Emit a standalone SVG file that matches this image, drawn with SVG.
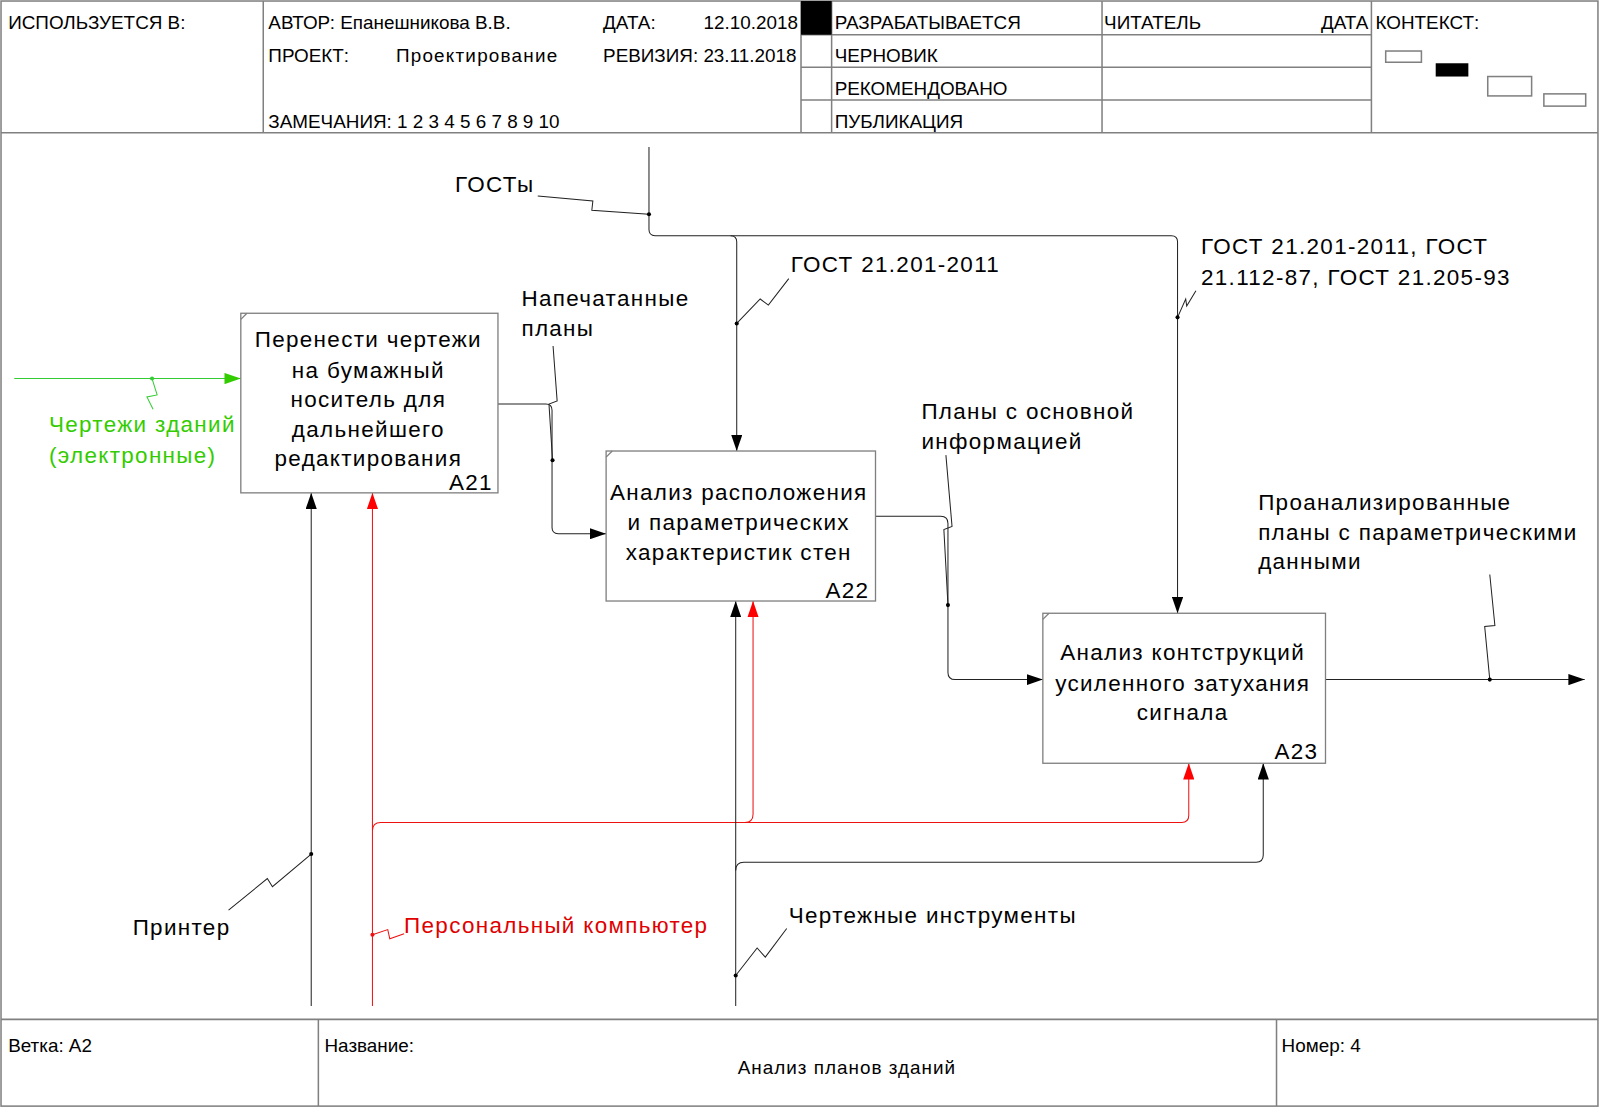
<svg xmlns="http://www.w3.org/2000/svg" width="1600" height="1108" viewBox="0 0 1600 1108">
<defs>
<style>
.frm{fill:none;stroke:#808080;stroke-width:1.5}
.box{fill:#fff;stroke:#808080;stroke-width:1.3}
.ln{fill:none;stroke:#222;stroke-width:1}
.rd{fill:none;stroke:#ee1111;stroke-width:1}
.gr{fill:none;stroke:#33cc33;stroke-width:1}
.hd{font-family:"Liberation Sans",Arial,sans-serif;font-size:18.5px;fill:#000}
.tx{font-family:"Liberation Sans",Arial,sans-serif;font-size:22px;letter-spacing:1.3px;fill:#000}
.mid{text-anchor:middle}
.end{text-anchor:end}
</style>
<marker id="ab" viewBox="0 0 16 11" refX="16" refY="5.5" markerWidth="16" markerHeight="11" markerUnits="userSpaceOnUse" orient="auto"><path d="M0,0 L16,5.5 L0,11 Z" fill="#000"/></marker>
<marker id="ar" viewBox="0 0 16 11" refX="16" refY="5.5" markerWidth="16" markerHeight="11" markerUnits="userSpaceOnUse" orient="auto"><path d="M0,0 L16,5.5 L0,11 Z" fill="#ff0000"/></marker>
<marker id="ag" viewBox="0 0 16 11" refX="16" refY="5.5" markerWidth="16" markerHeight="11" markerUnits="userSpaceOnUse" orient="auto"><path d="M0,0 L16,5.5 L0,11 Z" fill="#33cc00"/></marker>
</defs>
<rect width="1600" height="1108" fill="#fff"/>
<g transform="scale(1.0204)">
<g id="frame">
<rect class="frm" x="1" y="1" width="1565" height="1083"/>
<line class="frm" x1="1" y1="130" x2="1566" y2="130"/>
<line class="frm" x1="258" y1="1" x2="258" y2="130"/>
<line class="frm" x1="785" y1="1" x2="785" y2="130"/>
<line class="frm" x1="815" y1="1" x2="815" y2="130"/>
<line class="frm" x1="1080" y1="1" x2="1080" y2="130"/>
<line class="frm" x1="1344" y1="1" x2="1344" y2="130"/>
<line class="frm" x1="785" y1="34" x2="1344" y2="34"/>
<line class="frm" x1="785" y1="66" x2="1344" y2="66"/>
<line class="frm" x1="785" y1="98" x2="1344" y2="98"/>
<rect x="785" y="1" width="30" height="33" fill="#000"/>
<rect class="frm" x="1358" y="50" width="35" height="11" stroke-width="1.2"/>
<rect x="1407" y="62" width="32" height="13" fill="#000"/>
<rect class="frm" x="1458" y="75" width="43" height="19" stroke-width="1.2"/>
<rect class="frm" x="1513" y="92" width="41" height="12" stroke-width="1.2"/>
<line class="frm" x1="1" y1="999" x2="1566" y2="999"/>
<line class="frm" x1="312" y1="999" x2="312" y2="1084"/>
<line class="frm" x1="1251" y1="999" x2="1251" y2="1084"/>
</g>
<g id="header">
<text class="hd" x="8" y="28">ИСПОЛЬЗУЕТСЯ В:</text>
<text class="hd" x="263" y="28">АВТОР: Епанешникова В.В.</text>
<text class="hd" x="591" y="28">ДАТА:</text>
<text class="hd end" x="782" y="28">12.10.2018</text>
<text class="hd" x="263" y="61">ПРОЕКТ:</text>
<text class="hd" x="388" y="61" style="letter-spacing:1.2px">Проектирование</text>
<text class="hd" x="591" y="61">РЕВИЗИЯ: 23.11.2018</text>
<text class="hd" x="263" y="125">ЗАМЕЧАНИЯ: 1 2 3 4 5 6 7 8 9 10</text>
<text class="hd" x="818" y="28">РАЗРАБАТЫВАЕТСЯ</text>
<text class="hd" x="818" y="61">ЧЕРНОВИК</text>
<text class="hd" x="818" y="93">РЕКОМЕНДОВАНО</text>
<text class="hd" x="818" y="125">ПУБЛИКАЦИЯ</text>
<text class="hd" x="1082" y="28">ЧИТАТЕЛЬ</text>
<text class="hd end" x="1341" y="28">ДАТА</text>
<text class="hd" x="1348" y="28">КОНТЕКСТ:</text>
</g>
<g id="footer">
<text class="hd" x="8" y="1031">Ветка: А2</text>
<text class="hd" x="318" y="1031">Название:</text>
<text class="hd" x="1256" y="1031">Номер: 4</text>
<text class="hd mid" x="830" y="1053" style="letter-spacing:1px">Анализ планов зданий</text>
</g>
<g id="connectors">
<path class="gr" d="M14,371 H236" marker-end="url(#ag)"/>
<path class="gr" d="M149,371 L154,387 L144,389 L150,401"/>
<circle cx="149" cy="371" r="2" fill="#33cc33"/>
<path class="ln" d="M488,396 H535 Q541,396 541,402 V517 Q541,523 547,523 H594" marker-end="url(#ab)"/>
<path class="ln" d="M542,339 L546,393 L538,396 L541.5,451"/>
<circle cx="541.5" cy="451" r="2" fill="#000"/>
<path class="ln" d="M636,144 V225 Q636,231 642,231 H716 Q722,231 722,237 V442" marker-end="url(#ab)"/>
<path class="ln" d="M716,231 H1148 Q1154,231 1154,237 V601" marker-end="url(#ab)"/>
<path class="ln" d="M527,192 L581,197 L580,206 L636,210"/>
<circle cx="636" cy="210" r="2" fill="#000"/>
<path class="ln" d="M773,273 L753,299 L745,293 L722,317"/>
<circle cx="722" cy="317" r="2" fill="#000"/>
<path class="ln" d="M1172,285 L1163,300 L1162,293 L1154,311"/>
<circle cx="1154" cy="311" r="2" fill="#000"/>
<path class="ln" d="M858,506 H922 Q929,506 929,513 V659 Q929,666 936,666 H1022" marker-end="url(#ab)"/>
<path class="ln" d="M927,446 L933,516 L925,519 L929,593"/>
<circle cx="929" cy="593" r="2" fill="#000"/>
<path class="ln" d="M1299,666 H1553" marker-end="url(#ab)"/>
<path class="ln" d="M1460,563 L1465,613 L1455,614 L1460,666"/>
<circle cx="1460" cy="666" r="2" fill="#000"/>
<path class="ln" d="M305,986 V483" marker-end="url(#ab)"/>
<path class="ln" d="M224,892 L262,861 L267,869 L305,837"/>
<circle cx="305" cy="837" r="2" fill="#000"/>
<path class="rd" d="M365,986 V483" marker-end="url(#ar)"/>
<path class="rd" d="M365,814 Q365,806 373,806 H1158 Q1165,806 1165,799 V748" marker-end="url(#ar)"/>
<path class="rd" d="M730,806 Q738,806 738,798 V589" marker-end="url(#ar)"/>
<path class="rd" d="M365,916 L380,911 L382,920 L396,915"/>
<circle cx="365" cy="916" r="2" fill="#ee1111"/>
<path class="ln" d="M721,986 V589" marker-end="url(#ab)"/>
<path class="ln" d="M721,853 Q721,845 729,845 H1231 Q1238,845 1238,838 V748" marker-end="url(#ab)"/>
<path class="ln" d="M771,910 L750,938 L742,929 L721,956"/>
<circle cx="721" cy="956" r="2" fill="#000"/>
</g>
<g id="A21">
<rect class="box" x="236" y="307" width="252" height="176"/>
<line class="box" x1="236" y1="313" x2="242" y2="307"/>
<text class="tx mid" x="361" y="340">Перенести чертежи</text>
<text class="tx mid" x="361" y="370">на бумажный</text>
<text class="tx mid" x="361" y="399">носитель для</text>
<text class="tx mid" x="361" y="428">дальнейшего</text>
<text class="tx mid" x="361" y="457">редактирования</text>
<text class="tx end" x="483" y="480">A21</text>
</g>
<g id="A22">
<rect class="box" x="594" y="442" width="264" height="147"/>
<line class="box" x1="594" y1="448" x2="600" y2="442"/>
<text class="tx mid" x="724" y="490">Анализ расположения</text>
<text class="tx mid" x="724" y="519">и параметрических</text>
<text class="tx mid" x="724" y="549">характеристик стен</text>
<text class="tx end" x="852" y="586">A22</text>
</g>
<g id="A23">
<rect class="box" x="1022" y="601" width="277" height="147"/>
<line class="box" x1="1022" y1="607" x2="1028" y2="601"/>
<text class="tx mid" x="1159" y="647">Анализ контструкций</text>
<text class="tx mid" x="1159" y="677">усиленного затухания</text>
<text class="tx mid" x="1159" y="706">сигнала</text>
<text class="tx end" x="1292" y="744">A23</text>
</g>
<g id="labels">
<text class="tx" x="446" y="188">ГОСТы</text>
<text class="tx" x="775" y="267">ГОСТ 21.201-2011</text>
<text class="tx" x="1177" y="249">ГОСТ 21.201-2011, ГОСТ</text>
<text class="tx" x="1177" y="279">21.112-87, ГОСТ 21.205-93</text>
<text class="tx" x="511" y="300">Напечатанные</text>
<text class="tx" x="511" y="329">планы</text>
<text class="tx" x="903" y="411">Планы с основной</text>
<text class="tx" x="903" y="440">информацией</text>
<text class="tx" x="1233" y="500">Проанализированные</text>
<text class="tx" x="1233" y="529">планы с параметрическими</text>
<text class="tx" x="1233" y="558">данными</text>
<text class="tx" x="48" y="423" fill="#33cc00" style="fill:#33cc00">Чертежи зданий</text>
<text class="tx" x="48" y="454" style="fill:#33cc00">(электронные)</text>
<text class="tx" x="130" y="916">Принтер</text>
<text class="tx" x="396" y="914" style="fill:#e00000">Персональный компьютер</text>
<text class="tx" x="773" y="905">Чертежные инструменты</text>
</g>
</g>
</svg>
